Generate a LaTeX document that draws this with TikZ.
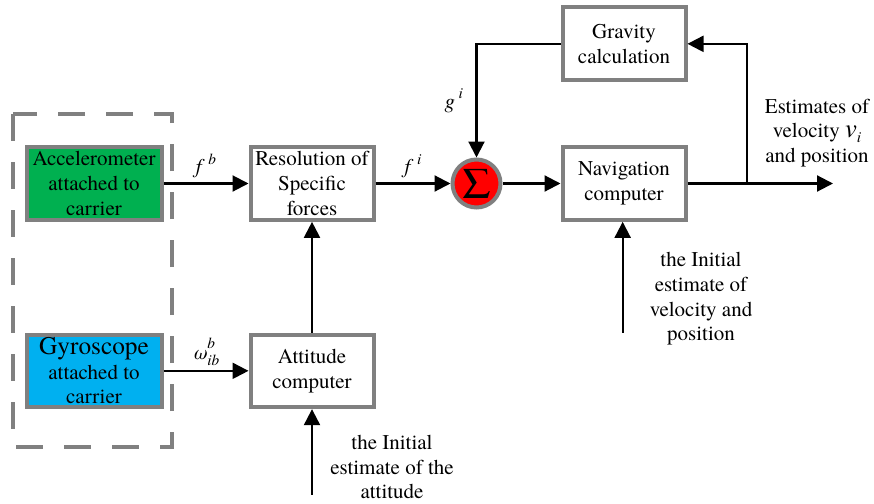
\documentclass[tikz,border=0pt]{standalone}
\usepackage{fontspec}
\setmainfont{texgyretermes}[Extension=.otf, UprightFont=*-regular, ItalicFont=*-italic, BoldFont=*-bold]
\usepackage{xcolor}
\usetikzlibrary{positioning, arrows.meta}
\definecolor{border}{RGB}{128,128,128}
\definecolor{accgreen}{RGB}{0,176,80}
\definecolor{gyroblue}{RGB}{0,176,240}
\definecolor{sumred}{RGB}{255,0,0}
\newcommand{\idx}{\fontsize{11.5}{12}\selectfont}
\newcommand{\sig}[2]{\textit{#1}\,\raisebox{1.0ex}{\idx\textit{#2}}}

\begin{document}
\begin{tikzpicture}[x=0.75pt, y=-0.75pt,
    font=\rmfamily\fontsize{15.75}{18.5}\selectfont,
    block/.style={rectangle, draw=border, line width=3pt, fill=white, minimum width=92.25pt, minimum height=54.5pt, align=center, inner sep=0pt},
    sensor/.style={block, minimum width=101.25pt},
    summer/.style={circle, draw=border, line width=3pt, fill=sumred, minimum size=36pt, inner sep=0pt},
    arrow/.style={-{Triangle[length=12pt, width=12pt]}, line width=1.6pt},
    note/.style={align=center, inner sep=0pt}
]
\useasboundingbox (0,0) rectangle (874,503);

\node[sensor, fill=accgreen] (accel) at (94,183.5) {Accelerometer\\attached to\\carrier};
\node[sensor, fill=gyroblue, below=83pt of accel] (gyro) {{\fontsize{19}{20}\selectfont Gyroscope}\\attached to\\carrier};
\node[block, right=63.75pt of accel] (resolve) {Resolution of\\Specific\\forces};
\node[block, below=83pt of resolve] (attitude) {Attitude\\computer};
\node[summer, right=56.25pt of resolve] (sum) {\fontsize{33}{33}\selectfont Σ};
\node[block, right=43.5pt of sum] (nav) {Navigation\\computer};
\node[block, above=47.25pt of nav] (gravity) {Gravity\\calculation};

% sensor group
\draw[border, line width=3pt, dash pattern=on 20pt off 16pt] (13,114) rectangle (172,447);

\coordinate (attin) at ([yshift=-64pt]attitude.south);
\coordinate (navin) at ([xshift=-1pt, yshift=-83.25pt]nav.south);
\coordinate (out) at (833,183.5);
\coordinate (split) at (747,183.5);

\draw[arrow] (accel) -- node[above]{\sig{f}{b}} (resolve);
\draw[arrow] (gyro) -- node[above]{\textit{ω}\rlap{\raisebox{1.2ex}{\idx\textit{b}}}\raisebox{-0.6ex}{\idx\textit{ib}}} (attitude);
\draw[arrow] (attitude) -- (resolve);
\draw[arrow] (resolve) -- node[above]{\sig{f}{i}} (sum);
\draw[arrow] (sum) -- (nav);
\draw[arrow] (nav.east) -- (out);
\draw[arrow] (split) |- (gravity.east);
\draw[arrow] (gravity.west) -| node[pos=0.75, left=6pt]{\sig{g}{i}} (sum.north);
\draw[arrow] (attin) -- (attitude.south);
\draw[arrow] (navin) -- (navin |- nav.south);

\node[note] (attnote) at (392,467) {the Initial\\estimate of the\\attitude};
\node[note] (navnote) at (701,299) {the Initial\\estimate of\\velocity and\\position};
\node[note] (outnote) at (817,133) {Estimates of\\velocity {\fontsize{20}{20}\selectfont\textit{v}}\raisebox{-0.5ex}{\idx\textit{i}}\\and position};

\end{tikzpicture}
\end{document}
